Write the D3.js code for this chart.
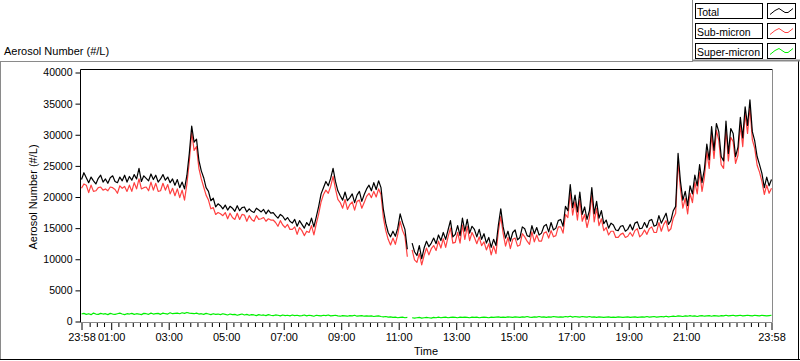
<!DOCTYPE html>
<html><head><meta charset="utf-8">
<script src="https://cdn.jsdelivr.net/npm/d3@7"></script>
<style>
html,body{margin:0;padding:0;background:#fff;}
svg{display:block;}
text{font-family:"Liberation Sans",Arial,sans-serif;fill:#000;}
</style></head>
<body>
<script>
// ---- data (5-minute samples starting at 23:58) ----
const sampleMinutes = 5;
const totalValues = [
22800,23900,23100,22300,23200,22600,22100,23000,23500,22400,
22900,22200,23100,23400,22500,22300,23200,22600,23500,22400,
23300,22700,23600,22900,24600,22500,23400,23000,22600,23700,
22800,23500,22400,22900,23600,22700,23200,22300,22900,21900,
22800,21500,22400,21300,23500,27000,31400,28800,29300,25900,
24200,23100,21500,20900,19400,19800,18400,18900,18600,18100,
18700,17900,18500,18200,17700,18600,17800,18300,18400,17600,
18100,17700,17500,18200,17900,17600,18000,17300,17900,17400,
17500,17000,16600,17200,16900,16300,16700,16100,15800,16400,
15300,16200,15600,15000,15900,15400,16600,15200,16800,18500,
20500,21500,22500,21800,23000,24600,22500,21000,20200,19500,
20800,19400,19900,20500,19100,20300,20900,19300,20400,21300,
21900,21000,22300,21200,22600,21500,18000,15800,14300,13600,
14500,13700,15000,17300,15900,14800,11600,null,12600,11200,
10600,12200,10100,11800,12900,12000,12600,13400,12500,13900,
13000,14300,13200,14700,16200,13600,14000,15400,13800,16600,
14500,16400,14200,15300,14800,13600,14800,13200,14100,12600,
13500,11900,13200,12200,15500,18100,15200,13400,14500,12900,
14300,14700,13100,13500,15200,14900,13800,13600,15400,14100,
15100,13900,14200,15300,15600,14400,15900,14700,15000,16200,
16400,15300,18500,17800,22000,18300,20300,17600,20800,17200,
18400,16400,17800,21500,17300,19300,16600,17800,15700,16300,
15000,15800,15500,14700,14600,15300,15400,14500,14800,15600,
14700,15800,16000,14900,15000,15900,15100,16200,16400,15300,
15500,17000,15800,16600,17400,15600,16200,17800,18500,27000,
22500,19500,20900,18600,21800,20500,23500,21800,25200,22300,
24500,28500,26000,31300,27500,31800,30500,26500,25800,32200,
27000,31000,30200,26500,28000,32800,29500,34500,31500,35600,
30500,29000,26500,25200,23800,21500,23200,21800,22800
];
const subValues = [
21400,22100,21900,20700,21900,20900,21000,21500,21600,21100,
21300,21000,21600,21500,21200,20600,21800,21400,21700,20900,
21900,20900,22300,21300,22900,21300,21500,21600,21000,22400,
21100,22200,20900,21000,22200,21100,22000,20500,21400,20200,
21300,19900,21100,19500,22100,25700,30400,27500,28100,24600,
22900,21600,20300,19500,18100,18300,17200,17500,17300,17000,
17500,16500,17400,16700,16400,17400,16400,17200,17100,16100,
17000,16400,16100,17000,16400,16500,16700,16100,16500,16300,
16300,15900,15300,16200,15500,15100,15600,14800,14800,15200,
14000,15100,14600,13800,14500,14300,15400,13900,15700,17300,
19200,20400,21100,20600,21700,23300,21300,19600,19100,18200,
19600,18000,18800,19200,17900,19300,19500,18200,19100,20100,
20600,19900,20900,20000,21300,20400,16700,14600,13200,12300,
13400,12400,14000,16100,14600,13700,10400,null,11500,9900,
9500,10900,9100,10600,11800,10700,11700,12200,11400,12900,
11800,13300,11900,13600,15000,12600,12700,14300,12600,15500,
13200,15300,13000,14300,13500,12500,13600,12200,12800,11500,
12500,10700,12100,10900,14500,16900,14100,12100,13500,11700,
13200,13400,12100,12300,14100,13600,12900,12400,14400,12800,
13900,12900,12900,14200,14400,13400,14600,13600,13800,15200,
15200,14200,17200,16700,20700,17100,19200,16300,19600,16100,
17200,15100,16700,20300,16000,18200,15400,16500,14600,15100,
13900,14500,14500,13500,13500,14000,14200,13500,13700,14300,
13700,14600,14900,13600,14000,14700,14000,14900,15200,14300,
14300,15900,14500,15600,16200,14500,14900,16600,17400,25700,
21300,18200,19800,17300,20600,19100,22400,20500,24000,20900,
23200,27300,24600,30100,26200,30700,29100,25200,24600,30900,
25800,29600,28900,25400,26700,31600,28100,33400,30200,34400,
29200,27800,25100,24000,22500,20400,21900,20600,21400
];
const superValues = [
1200,1300,1150,1250,1100,1350,1200,1150,1300,1200,
1250,1100,1300,1200,1150,1250,1350,1200,1100,1250,
1200,1300,1150,1250,1200,1100,1300,1250,1150,1350,
1200,1250,1300,1150,1350,1250,1200,1400,1250,1300,
1350,1250,1400,1300,1450,1350,1300,1250,1350,1200,
1250,1150,1300,1200,1100,1250,1150,1200,1100,1250,
1150,1050,1200,1100,1150,1000,1100,1200,1050,1150,
1000,1100,1050,950,1100,1000,1050,950,1100,1000,
950,1050,1000,900,1050,950,1000,900,1050,950,
1000,900,950,1050,900,1000,950,850,1000,950,
900,1000,950,1050,900,950,1000,900,850,950,
900,850,950,900,1000,850,900,950,850,900,
850,900,800,850,900,800,750,800,700,750,
650,700,600,650,700,600,650,null,600,550,
600,650,550,600,650,600,550,650,600,700,
600,650,700,600,650,700,650,600,700,650,
700,650,600,700,650,700,600,650,700,650,
600,700,650,700,750,650,700,650,750,700,
650,750,700,650,750,700,800,700,650,750,
700,800,700,750,650,750,700,800,750,700,
750,700,800,750,850,700,800,750,700,800,
750,700,800,700,750,650,750,700,650,700,
750,650,700,650,750,700,650,700,750,650,
700,750,650,700,750,700,800,700,750,800,
700,750,800,750,850,750,800,850,800,900,
850,800,900,850,950,850,900,800,900,950,
850,900,950,850,950,900,850,950,900,1000,
900,950,1000,900,950,1000,900,950,1000,950,
900,1000,950,900,1000,950,900,950,1000
];
const xTickMinutes = [0,62,182,302,422,542,662,782,902,1022,1142,1262,1440];
const xTickLabels = ["23:58","01:00","03:00","05:00","07:00","09:00","11:00","13:00","15:00","17:00","19:00","21:00","23:58"];
const yTickValues = [0,5000,10000,15000,20000,25000,30000,35000,40000];
const seriesNames = ["Total","Sub-micron","Super-micron"];
const seriesColors = ["#000000","#ff4040","#00f000"];
const totalMinutes = 1440;

// ---- drawing ----
const W = 800, H = 361;
const svg = d3.select("body").append("svg").attr("width", W).attr("height", H);

// outer frame
svg.append("line").attr("x1",0).attr("x2",692).attr("y1",61.5).attr("y2",61.5).attr("stroke","#8a8a8a");
svg.append("line").attr("x1",0.5).attr("x2",0.5).attr("y1",61).attr("y2",360).attr("stroke","#8a8a8a");
svg.append("line").attr("x1",0).attr("x2",800).attr("y1",359.5).attr("y2",359.5).attr("stroke","#000");
svg.append("line").attr("x1",798.5).attr("x2",798.5).attr("y1",61).attr("y2",360).attr("stroke","#000");
// legend panel frame
svg.append("line").attr("x1",692.5).attr("x2",692.5).attr("y1",0).attr("y2",62).attr("stroke","#8a8a8a");
svg.append("line").attr("x1",692).attr("x2",800).attr("y1",60.5).attr("y2",60.5).attr("stroke","#8a8a8a").attr("stroke-width",2);

const x = d3.scaleLinear().domain([0,totalMinutes]).range([81.5,771.5]);
const y = d3.scaleLinear().domain([0,40000]).range([321.5,72.5]);

// plot frame
svg.append("line").attr("x1",80.5).attr("x2",772.5).attr("y1",69.5).attr("y2",69.5).attr("stroke","#000");
svg.append("line").attr("x1",772.5).attr("x2",772.5).attr("y1",69.5).attr("y2",322.5).attr("stroke","#8a8a8a");

// series
const line = d3.line()
  .defined(d => d != null)
  .x((d,i) => x(i*sampleMinutes))
  .y(d => y(d));
const drawOrder = [[subValues,1],[totalValues,0],[superValues,2]];
drawOrder.forEach(([vals,ci]) => {
  svg.append("path").datum(vals).attr("d", line)
    .attr("fill","none").attr("stroke",seriesColors[ci]).attr("stroke-width",1.2)
    .attr("stroke-linejoin","round");
});

// y axis
const yAxis = d3.axisLeft(y).tickValues(yTickValues).tickSize(5).tickPadding(3).tickFormat(d3.format("d"));
const gy = svg.append("g").attr("transform","translate(80.5,0)").call(yAxis);
gy.select(".domain").attr("d","M0,69.5V322.5").attr("stroke","#000");
gy.selectAll("text").attr("font-size","10.5px").attr("font-family","Liberation Sans, Arial, sans-serif");

// x axis: bottom line
svg.append("line").attr("x1",80.5).attr("x2",772.5).attr("y1",322.5).attr("y2",322.5).attr("stroke","#8a8a8a");
// minor ticks every 15 min
const minorTicks = d3.range(17, totalMinutes, 15).filter(m => !xTickMinutes.includes(m));
const xMinor = d3.axisBottom(x).tickValues(minorTicks).tickSize(4).tickFormat("");
const gxm = svg.append("g").attr("transform","translate(0,323)").call(xMinor);
gxm.select(".domain").remove();
const xMajor = d3.axisBottom(x).tickValues(xTickMinutes).tickSize(7).tickPadding(3)
  .tickFormat((d,i) => xTickLabels[i]);
const gx = svg.append("g").attr("transform","translate(0,323)").call(xMajor);
gx.select(".domain").remove();
gx.selectAll("text").attr("font-size","11px").attr("font-family","Liberation Sans, Arial, sans-serif");

// titles
svg.append("text").attr("x",4).attr("y",55).attr("font-size","11px").text("Aerosol Number (#/L)");
svg.append("text").attr("transform","translate(37,197) rotate(-90)").attr("text-anchor","middle")
  .attr("font-size","11px").text("Aerosol Number (#/L)");
svg.append("text").attr("x",426).attr("y",355).attr("text-anchor","middle").attr("font-size","11px").text("Time");

// legend
const legY = [3.5,23.5,43.5];
seriesNames.forEach((name,i) => {
  const g = svg.append("g").attr("transform",`translate(0,${legY[i]})`);
  g.append("rect").attr("x",695.5).attr("y",0).attr("width",67).attr("height",15).attr("fill","#fff").attr("stroke","#000");
  g.append("text").attr("x",697).attr("y",12).attr("font-size","10.5px").text(name);
  g.append("rect").attr("x",767.5).attr("y",0).attr("width",28).attr("height",15).attr("fill","#fff").attr("stroke","#000");
  g.append("path").attr("d","M770,11 L775,7 L779,5 L785,9 L788,9 L793,5")
    .attr("fill","none").attr("stroke",seriesColors[i]).attr("stroke-width",1);
});
</script>
</body></html>
